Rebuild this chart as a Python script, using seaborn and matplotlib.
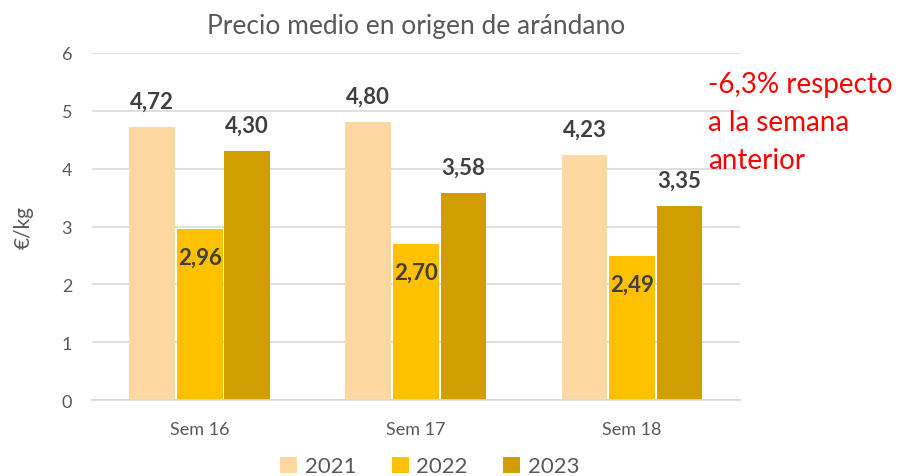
import matplotlib
matplotlib.use("Agg")
import matplotlib.pyplot as plt
import seaborn as sns
import pandas as pd

weeks = ["Sem 16", "Sem 17", "Sem 18"]
years = ["2021", "2022", "2023"]
v2021 = [4.72, 4.80, 4.23]
v2022 = [2.96, 2.70, 2.49]
v2023 = [4.30, 3.58, 3.35]
colors = ["#FFD7A0", "#FFC000", "#D19E00"]
title = "Precio medio en origen de arándano"
ylabel = "€/kg"
note = "-6,3% respecto\na la semana\nanterior"

rows = []
for yr, vals in zip(years, [v2021, v2022, v2023]):
    for w, v in zip(weeks, vals):
        rows.append({"Semana": w, "Año": yr, "Precio": v})
df = pd.DataFrame(rows)

sns.set_theme(style="white")
plt.rcParams["font.family"] = ["Lato", "DejaVu Sans"]

fig = plt.figure(figsize=(9.07, 4.77), dpi=100)
ax = fig.add_axes([0.101, 0.159, 0.715, 0.728])

sns.barplot(data=df, x="Semana", y="Precio", hue="Año", order=weeks,
            hue_order=years, palette=colors, width=0.66, gap=0.04,
            saturation=1, edgecolor="none", ax=ax, legend=True)

ax.set_ylim(0, 6)
ax.set_xlim(-0.5, 2.5)
ax.set_yticks(range(0, 7))
ax.yaxis.grid(True, color="#D9D9D9", linewidth=1.2)
ax.set_axisbelow(True)
for s in ["top", "right", "left"]:
    ax.spines[s].set_visible(False)
ax.spines["bottom"].set_color("#D9D9D9")
ax.spines["bottom"].set_linewidth(1.2)
ax.tick_params(axis="both", length=0, colors="#595959", labelsize=13)
ax.tick_params(axis="y", pad=14)
ax.tick_params(axis="x", pad=15)
ax.set_xlabel("")
ax.set_ylabel(ylabel, fontsize=15, color="#595959", labelpad=20)
ax.set_title(title, fontsize=19, color="#595959", pad=14)

for i, cont in enumerate(ax.containers):
    labels = [f"{v:.2f}".replace(".", ",") for v in cont.datavalues]
    if years[i] == "2022":
        ax.bar_label(cont, labels=labels, padding=-28, fontsize=16,
                     fontweight="bold", color="#404040")
    else:
        ax.bar_label(cont, labels=labels, padding=11, fontsize=16,
                     fontweight="bold", color="#404040")

leg = ax.legend(loc="center", bbox_to_anchor=(0.474, 0.02),
                bbox_transform=fig.transFigure, ncol=3,
                frameon=False, fontsize=16, handlelength=0.75, handleheight=0.75,
                columnspacing=1.6, handletextpad=0.35)
for t in leg.get_texts():
    t.set_color("#595959")

fig.text(0.781, 0.85, note, color="red", fontsize=20, va="top", ha="left",
         linespacing=1.58)

fig.savefig("out.png", dpi=100)
